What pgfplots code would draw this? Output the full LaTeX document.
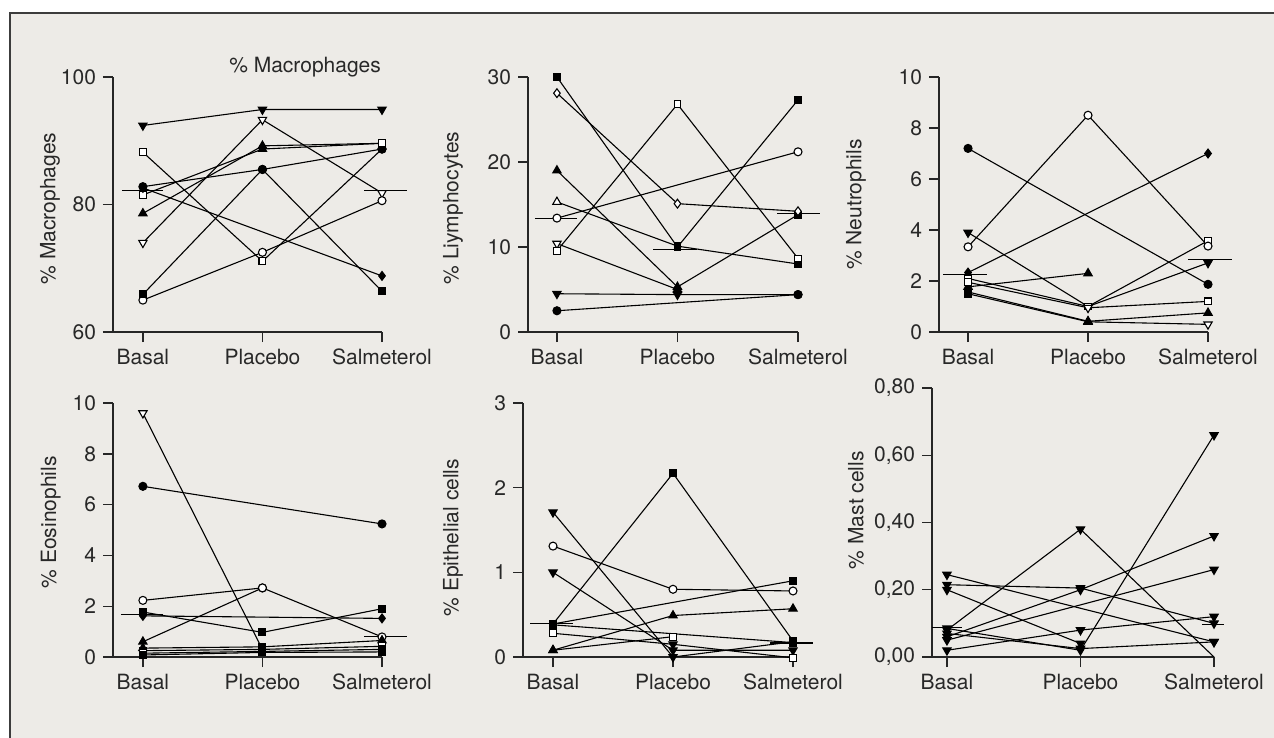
\documentclass[border=0pt]{standalone}
\usepackage{fontspec}
\setmainfont{TeX Gyre Heros}
\usepackage{pgfplots}
\pgfplotsset{compat=1.18}
\definecolor{bg}{RGB}{237,235,231}
\definecolor{txt}{RGB}{40,40,40}
\definecolor{framec}{RGB}{60,60,60}
\pgfdeclareplotmark{dtri}{%
  \pgfpathmoveto{\pgfpointpolar{270}{1.2\pgfplotmarksize}}%
  \pgfpathlineto{\pgfpointpolar{30}{1.2\pgfplotmarksize}}%
  \pgfpathlineto{\pgfpointpolar{150}{1.2\pgfplotmarksize}}%
  \pgfpathclose\pgfusepathqfillstroke}
\pgfdeclareplotmark{utri}{%
  \pgfpathmoveto{\pgfpointpolar{90}{1.2\pgfplotmarksize}}%
  \pgfpathlineto{\pgfpointpolar{210}{1.2\pgfplotmarksize}}%
  \pgfpathlineto{\pgfpointpolar{330}{1.2\pgfplotmarksize}}%
  \pgfpathclose\pgfusepathqfillstroke}
\pgfdeclareplotmark{blank}{}
\newcommand\lblfont{\fontsize{10.5}{12.5}\selectfont}
\pgfplotsset{
  panel/.style={
    scale only axis, clip=false,
    axis x line*=bottom, axis y line*=left,
    axis line style={line width=0.7pt, color=black!85},
    tick align=outside, major tick length=5pt,
    tick style={line width=0.7pt, color=black!85},
    xmax=2, xtick={0,1,2}, xticklabels={Basal,Placebo,Salmeterol},
    ticklabel style={font=\lblfont, text=txt},
    label style={font=\lblfont, text=txt},
    /pgf/number format/assume math mode=true,
    /pgf/number format/1000 sep={},
    scatter/classes={
      S={mark=square*, draw=black, fill=black, mark size=1.7pt},
      s={mark=square*, draw=black, fill=white, mark size=1.7pt},
      C={mark=*, draw=black, fill=black, mark size=2.0pt},
      c={mark=*, draw=black, fill=white, mark size=2.0pt},
      U={mark=utri, draw=black, fill=black, mark size=2.0pt},
      u={mark=utri, draw=black, fill=white, mark size=2.0pt},
      D={mark=dtri, draw=black, fill=black, mark size=2.0pt},
      d={mark=dtri, draw=black, fill=white, mark size=2.0pt},
      M={mark=diamond*, draw=black, fill=black, mark size=2.2pt},
      m={mark=diamond*, draw=black, fill=white, mark size=2.2pt},
      n={mark=blank}
    },
  },
  pt/.style={scatter, scatter src=explicit symbolic, black, line width=0.55pt},
  med/.style={black, line width=0.55pt, no marks},
}
\begin{document}
\begin{tikzpicture}
\useasboundingbox (0,0) rectangle (637pt,-369pt);
\fill[white] (0,0) rectangle (637pt,-369pt);
\fill[bg] (5pt,-6.5pt) rectangle (640pt,-372pt);
\draw[framec, line width=0.65pt] (5pt,-372pt) -- (5pt,-6.5pt) -- (640pt,-6.5pt);

% Panel 1: Macrophages
\begin{axis}[panel, at={(56.5pt,-166pt)}, anchor=south west, width=134.5pt, height=127.5pt,
  xmin=-0.25, ymin=60, ymax=100, ytick={60,80,100},
  ylabel={\% Macrophages}, ylabel style={at={(axis description cs:-0.234,0.484)}, anchor=center}]
\addplot[pt] coordinates {(0,92.4)[D] (1,94.9)[D] (2,94.9)[D]};
\addplot[pt] coordinates {(0,88.2)[s] (1,71.1)[s] (2,88.7)[C]};
\addplot[pt] coordinates {(0,74.0)[d] (1,93.3)[d] (2,81.8)[d]};
\addplot[pt] coordinates {(0,65.0)[c] (1,72.5)[c] (2,80.6)[c]};
\addplot[pt] coordinates {(0,65.9)[S] (1,85.5)[C] (2,66.4)[S]};
\addplot[pt] coordinates {(0,82.8)[C] (1,85.5)[C] (2,88.7)[C]};
\addplot[pt] coordinates {(0,78.6)[U] (1,89.2)[U] (2,89.6)[s]};
\addplot[pt] coordinates {(0,81.5)[s] (1,88.7)[U] (2,89.6)[s]};
\addplot[pt] coordinates {(0,82.6)[M] (2,68.8)[M]};
\addplot[med] coordinates {(-0.176,82.2) (0.167,82.2)};
\addplot[med] coordinates {(1.85,82.2) (2.21,82.2)};
\node[font=\lblfont, text=txt] at (axis description cs:0.714,1.039) {\% Macrophages};
\end{axis}

% Panel 2: Lymphocytes
\begin{axis}[panel, at={(264pt,-166pt)}, anchor=south west, width=135pt, height=127.5pt,
  xmin=-0.24, ymin=0, ymax=30, ytick={0,10,20,30},
  ylabel={\% Liymphocytes}, ylabel style={at={(axis description cs:-0.278,0.486)}, anchor=center}]
\addplot[pt] coordinates {(0,30)[S] (1,10)[S] (2,27.3)[S]};
\addplot[pt] coordinates {(0,19)[U] (1,5.3)[U] (2,13.8)[S]};
\addplot[pt] coordinates {(0,28.1)[m] (1,15.1)[m] (2,14.2)[m]};
\addplot[pt] coordinates {(0,15.3)[u] (1,10.1)[S] (2,8.0)[S]};
\addplot[pt] coordinates {(0,13.4)[c] (2,21.2)[c]};
\addplot[pt] coordinates {(0,10.4)[d] (1,5.0)[U]};
\addplot[pt] coordinates {(0,9.55)[s] (1,26.8)[s] (2,8.65)[s]};
\addplot[pt] coordinates {(0,4.5)[D] (1,4.4)[D] (2,4.4)[C]};
\addplot[pt] coordinates {(0,2.5)[C] (2,4.4)[C]};
\addplot[med] coordinates {(-0.183,13.37) (0.166,13.37)};
\addplot[med] coordinates {(0.80,9.75) (1.166,9.75)};
\addplot[med] coordinates {(1.826,13.96) (2.18,13.96)};
\end{axis}

% Panel 3: Neutrophils
\begin{axis}[panel, at={(469.5pt,-166pt)}, anchor=south west, width=134.5pt, height=127.5pt,
  xmin=-0.242, ymin=0, ymax=10, ytick={0,2,4,6,8,10},
  ylabel={\% Neutrophils}, ylabel style={at={(axis description cs:-0.309,0.5)}, anchor=center}]
\addplot[pt] coordinates {(0,7.2)[C] (2,1.87)[C]};
\addplot[pt] coordinates {(0,2.33)[M] (2,7.0)[M]};
\addplot[pt] coordinates {(0,3.9)[D] (1,1.0)[D] (2,2.71)[D]};
\addplot[pt] coordinates {(0,1.77)[U] (1,2.3)[U]};
\addplot[pt] coordinates {(0,2.1)[s] (1,1.0)[s] (2,3.58)[s]};
\addplot[pt] coordinates {(0,3.34)[c] (1,8.5)[c] (2,3.37)[c]};
\addplot[pt] coordinates {(0,1.95)[s] (1,0.95)[d] (2,1.2)[s]};
\addplot[pt] coordinates {(0,1.57)[S] (1,0.42)[U] (2,0.75)[U]};
\addplot[pt] coordinates {(0,1.5)[S] (1,0.4)[U] (2,0.3)[d]};
\addplot[med] coordinates {(-0.208,2.27) (0.158,2.27)};
\addplot[med] coordinates {(1.833,2.86) (2.2,2.86)};
\end{axis}

% Panel 4: Eosinophils
\begin{axis}[panel, at={(56.5pt,-328.5pt)}, anchor=south west, width=134.5pt, height=127pt,
  xmin=-0.25, ymin=0, ymax=10, ytick={0,2,4,6,8,10},
  ylabel={\% Eosinophils}, ylabel style={at={(axis description cs:-0.231,0.53)}, anchor=center}]
\addplot[pt] coordinates {(0,9.6)[d] (1,0.3)[S]};
\addplot[pt] coordinates {(0,6.72)[C] (2,5.24)[C]};
\addplot[pt] coordinates {(0,0.6)[U] (1,2.72)[c]};
\addplot[pt] coordinates {(0,2.23)[c] (1,2.72)[c] (2,0.79)[c]};
\addplot[pt] coordinates {(0,1.62)[M] (2,1.52)[M]};
\addplot[pt] coordinates {(0,1.77)[S] (1,0.97)[S] (2,1.9)[S]};
\addplot[pt] coordinates {(0,0.35)[U] (1,0.4)[S] (2,0.65)[U]};
\addplot[pt] coordinates {(0,0.25)[S] (1,0.3)[S] (2,0.42)[s]};
\addplot[pt] coordinates {(0,0.15)[s] (1,0.22)[S] (2,0.3)[S]};
\addplot[pt] coordinates {(0,0.08)[S] (1,0.18)[S] (2,0.2)[S]};
\addplot[med] coordinates {(-0.184,1.67) (0.167,1.67)};
\addplot[med] coordinates {(1.85,0.81) (2.21,0.81)};
\end{axis}

% Panel 5: Epithelial cells
\begin{axis}[panel, at={(261.5pt,-328.5pt)}, anchor=south west, width=135pt, height=127pt,
  xmin=-0.25, ymin=0, ymax=3, ytick={0,1,2,3},
  ylabel={\% Epithelial cells}, ylabel style={at={(axis description cs:-0.259,0.47)}, anchor=center}]
\addplot[pt] coordinates {(0,0.39)[S] (1,2.17)[S] (2,0.19)[S]};
\addplot[pt] coordinates {(0,1.71)[D] (1,0.0)[D] (2,0.18)[S]};
\addplot[pt] coordinates {(0,1.31)[c] (1,0.80)[c] (2,0.78)[c]};
\addplot[pt] coordinates {(0,1.0)[D] (1,0.08)[D] (2,0.08)[D]};
\addplot[pt] coordinates {(0,0.39)[S] (2,0.9)[S]};
\addplot[pt] coordinates {(0,0.38)[S] (2,0.17)[S]};
\addplot[pt] coordinates {(0,0.28)[s] (1,0.15)[D] (2,-0.01)[s]};
\addplot[pt] coordinates {(0,0.08)[U] (1,0.49)[U] (2,0.57)[U]};
\addplot[pt] coordinates {(0,0.08)[U] (1,0.24)[s]};
\addplot[med] coordinates {(-0.19,0.40) (0.167,0.40)};
\addplot[med] coordinates {(1.81,0.165) (2.167,0.165)};
\end{axis}

% Panel 6: Mast cells
\begin{axis}[panel, at={(466pt,-328.5pt)}, anchor=south west, width=141pt, height=134.5pt,
  xmin=-0.112, ymin=0, ymax=0.8, ytick={0,0.2,0.4,0.6,0.8},
  yticklabel style={/pgf/number format/.cd, fixed, fixed zerofill, precision=2, use comma},
  ylabel={\% Mast cells}, ylabel style={at={(axis description cs:-0.27,0.546)}, anchor=center}]
\addplot[pt] coordinates {(0,0.245)[D] (2,0.045)[D]};
\addplot[pt] coordinates {(0,0.215)[D] (1,0.205)[D] (2,0.10)[D]};
\addplot[pt] coordinates {(0,0.20)[D] (1,0.04)[D]};
\addplot[pt] coordinates {(0,0.08)[D] (1,0.38)[D] (2,0.0)[n]};
\addplot[pt] coordinates {(0,0.085)[D] (1,0.02)[D] (2,0.66)[D]};
\addplot[pt] coordinates {(0,0.06)[D] (1,0.20)[D] (2,0.36)[D]};
\addplot[pt] coordinates {(0,0.05)[D] (2,0.26)[D]};
\addplot[pt] coordinates {(0,0.02)[D] (1,0.08)[D] (2,0.12)[D]};
\addplot[pt] coordinates {(0,0.07)[D] (1,0.025)[D] (2,0.045)[D]};
\addplot[med] coordinates {(-0.112,0.088) (0.112,0.088)};
\addplot[med] coordinates {(1.91,0.098) (2.075,0.098)};
\end{axis}
\end{tikzpicture}
\end{document}
